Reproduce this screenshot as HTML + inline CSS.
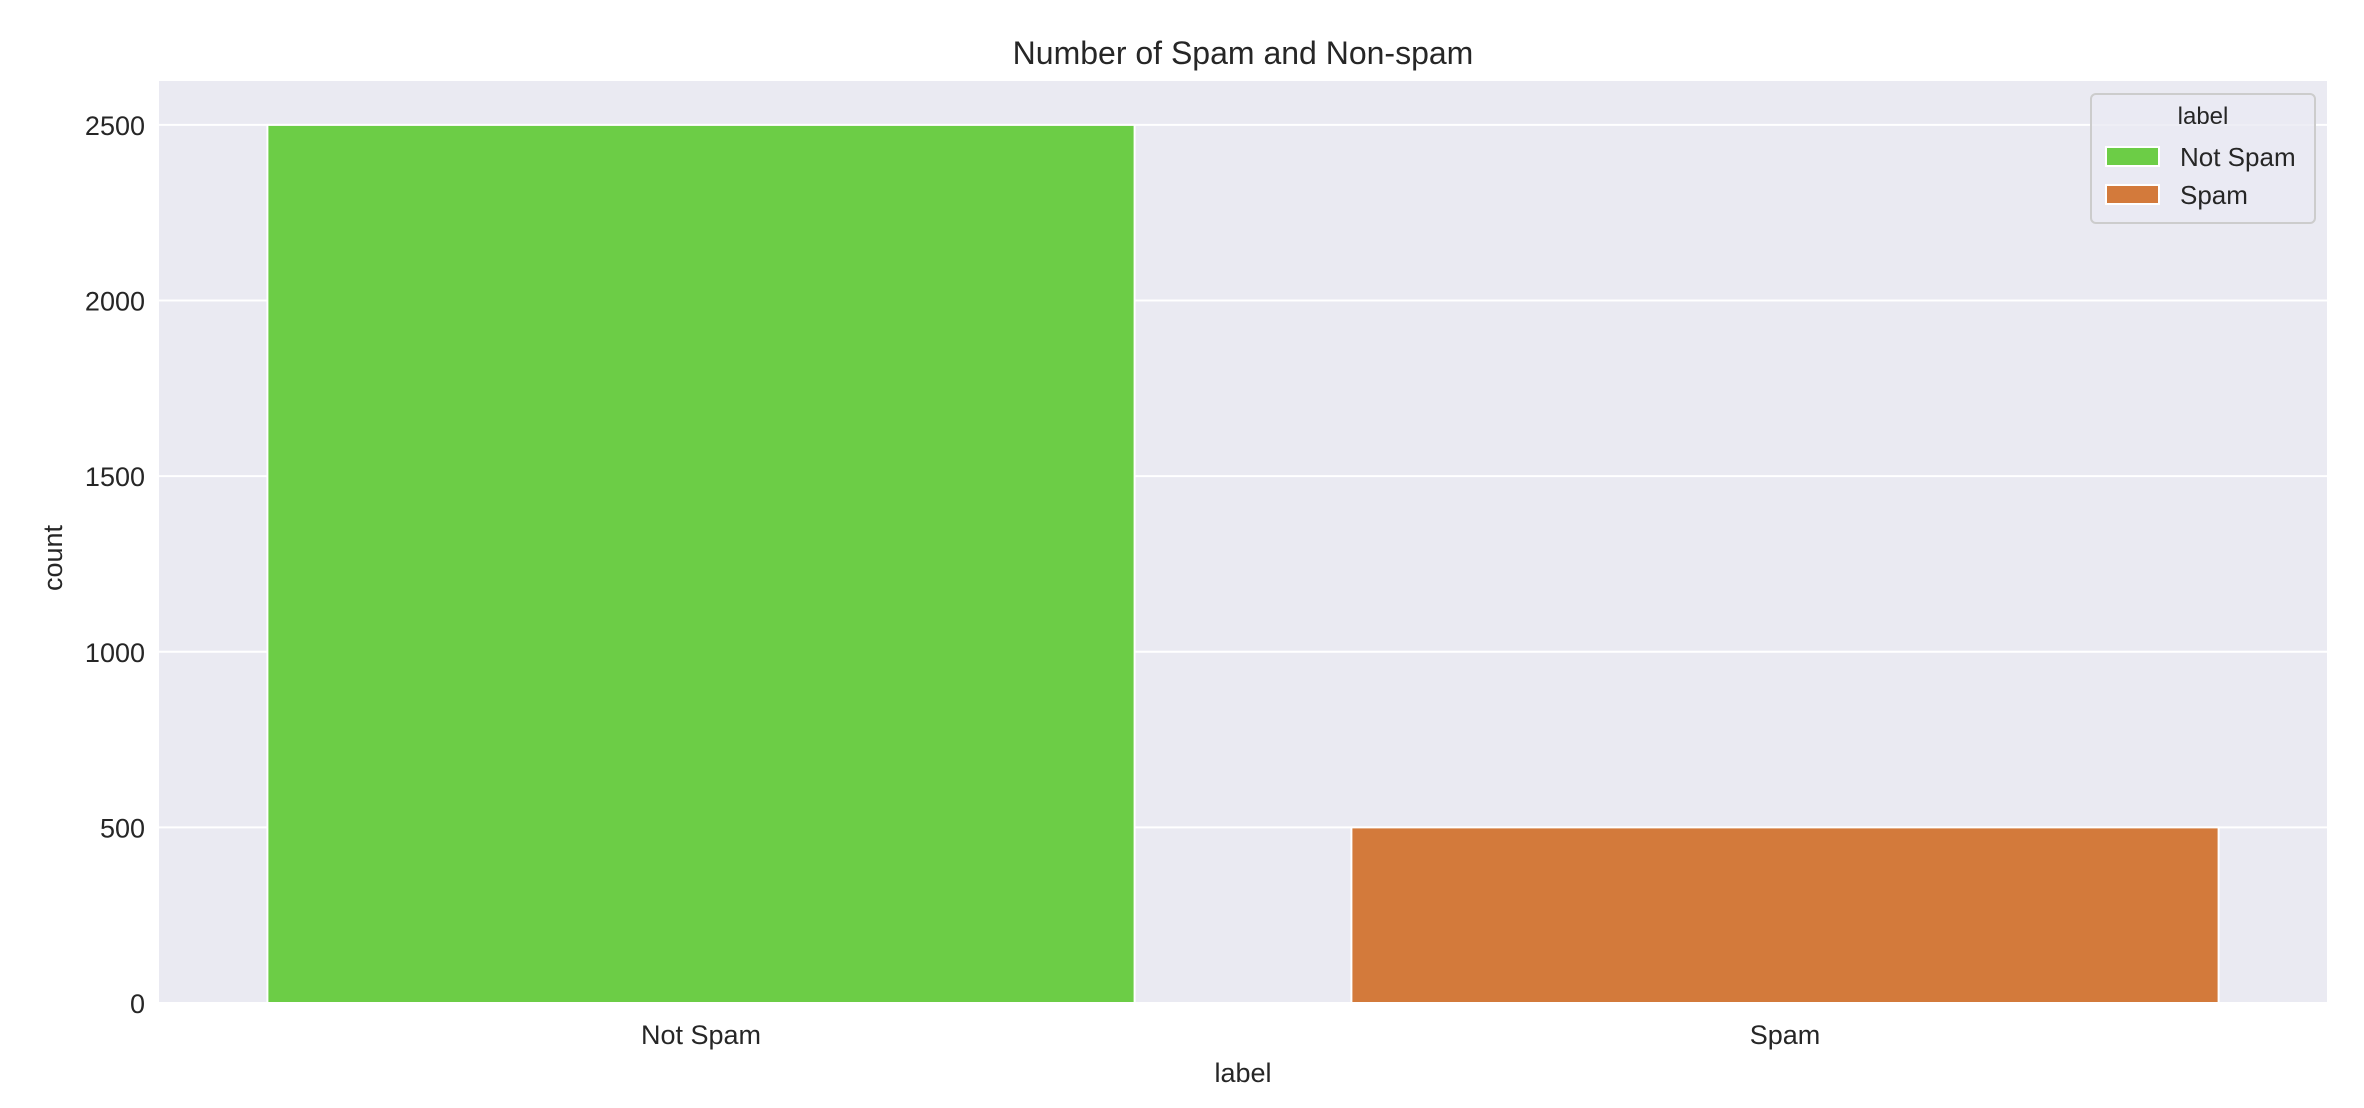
<!DOCTYPE html>
<html><head><meta charset="utf-8"><style>
html,body{margin:0;padding:0;background:#fff;}
svg{display:block;font-family:"Liberation Sans","DejaVu Sans",sans-serif;}
</style></head><body>
<svg id="chart" width="2364" height="1108" viewBox="0 0 2364 1108">
<text x="1243" y="64" font-size="32" fill="#262626" text-anchor="middle">Number of Spam and Non-spam</text>
<rect x="159" y="81" width="2168" height="922" fill="#eaeaf2"/>
<g id="grid"></g>
<g id="bars"></g>
<g id="yticks"></g>
<g id="xticks"></g>
<text x="1243" y="1082" font-size="27" fill="#262626" text-anchor="middle">label</text>
<text transform="translate(62,558) rotate(-90)" font-size="27" fill="#262626" text-anchor="middle">count</text>
<g>
<rect x="2091" y="94" width="224" height="129" rx="5" fill="#eaeaf2" fill-opacity="0.8" stroke="#cccccc" stroke-width="2"/>
<text x="2203" y="124" font-size="24" fill="#262626" text-anchor="middle">label</text>
<rect x="2106" y="147" width="53" height="19" fill="#6ccd46" stroke="#fff" stroke-width="2"/>
<text x="2180" y="166" font-size="26" fill="#262626">Not Spam</text>
<rect x="2106" y="185" width="53" height="19" fill="#d37a3b" stroke="#fff" stroke-width="2"/>
<text x="2180" y="204" font-size="26" fill="#262626">Spam</text>
</g>
</svg>
<script>
const categories = ["Not Spam", "Spam"];
const counts = [2500, 500];
const colors = ["#6ccd46", "#d37a3b"];
const yTicks = [0, 500, 1000, 1500, 2000, 2500];

const L=159, R=2327, T=81, B=1003, yMax=2625;
const NS="http://www.w3.org/2000/svg";
const band=(R-L)/categories.length;
const xc=i=>L+band*(i+0.5);
const y=v=>B-(v/yMax)*(B-T);
function mk(tag,attrs,parent){const e=document.createElementNS(NS,tag);for(const k in attrs)e.setAttribute(k,attrs[k]);document.getElementById(parent).appendChild(e);return e;}

yTicks.forEach(t=>{
  const g=mk('line',{x1:L,x2:R,y1:y(t),y2:y(t),stroke:'#fff','stroke-width':2},'grid');
  
  
  const lb=mk('text',{x:145,y:y(t)+10,'font-size':27,fill:'#262626','text-anchor':'end'},'yticks');
  lb.textContent=t;
  
  
});
categories.forEach((c,i)=>{
  const w=band*0.8;
  const b=mk('rect',{x:xc(i)-w/2,y:y(counts[i]),width:w,height:B-y(counts[i]),fill:colors[i],stroke:'#fff','stroke-width':2},'bars');
  
  
  const lb=mk('text',{x:xc(i),y:1044,'font-size':27,fill:'#262626','text-anchor':'middle'},'xticks');
  lb.textContent=c;
  
  
});
</script>
</body></html>
